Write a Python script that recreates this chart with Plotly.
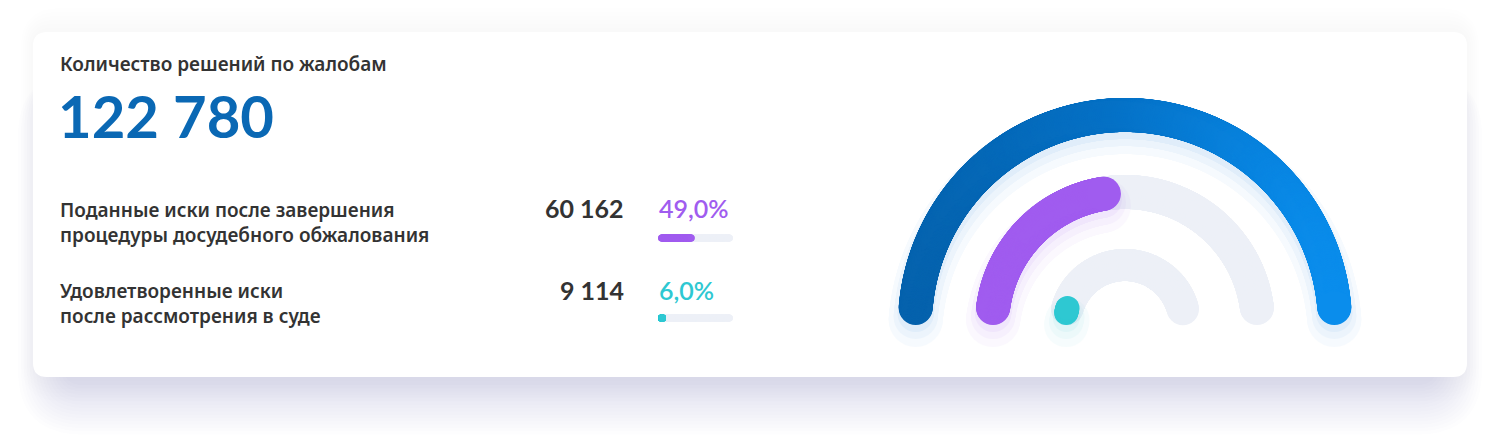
import numpy as np
import plotly.graph_objects as go

# ---------------- data ----------------
title = "Количество решений по жалобам"
total = 122780
row_labels = [
    "Поданные иски после завершения<br>процедуры досудебного обжалования",
    "Удовлетворенные иски<br>после рассмотрения в суде",
]
row_values = [60162, 9114]
row_pcts = [49.0, 6.0]
row_colors = ["#A05CEF", "#2EC8D2"]
total_colors = ["#0562AD", "#0A8DEC"]
track_color = "#EDF0F7"

# ---------------- layout constants (pixels) ----------------
W, H = 1500, 443
card = (33, 32, 1467, 377)
cx, cy = 1125, 325
radii = [210, 133, 60]
widths = [34, 34, 32]
fill_widths = [34, 34, 24]
bar_x0, bar_len, bar_th = 658, 75, 7
row_y_label = [222.5, 303.5]
row_y_num = [208, 290]
row_y_bar = [238, 318]


def fmt_num(v):
    return f"{v:,}".replace(",", " ")


def fmt_pct(p):
    return f"{p:.1f}".replace(".", ",") + "%"


def rrect(x0, y0, x1, y1, r):
    return (f"M {x0+r},{y0} L {x1-r},{y0} Q {x1},{y0} {x1},{y0+r} "
            f"L {x1},{y1-r} Q {x1},{y1} {x1-r},{y1} L {x0+r},{y1} "
            f"Q {x0},{y1} {x0},{y1-r} L {x0},{y0+r} Q {x0},{y0} {x0+r},{y0} Z")


def arc_points(r, width, frac):
    """Visual 0..100% spans 180deg including the round caps."""
    cap = np.degrees(width / 2 / r)
    start = 180 - cap
    span = max(frac * 180 - 2 * cap, 0)
    if frac < 1 and span < 5:
        span = 5
    n = max(int(np.radians(span) * r * 1.5), 2)
    th = np.radians(np.linspace(start, start - span, n))
    return cx + r * np.cos(th), cy - r * np.sin(th)


fig = go.Figure()
shapes = []

# faint overall halo
for i in range(6):
    s = 4 + i * 4
    shapes.append(dict(type="path", xref="x", yref="y",
                       path=rrect(card[0] - s * 0.5, card[1] - s, card[2] + s * 0.5, card[3] + s, 16 + s),
                       fillcolor="rgba(80,80,110,0.006)", line=dict(width=0), layer="below"))
# card shadow below
for i in range(16):
    s = i * 3.0
    shapes.append(dict(type="path", xref="x", yref="y",
                       path=rrect(card[0] + 30 - s, card[1] + 40,
                                  card[2] - 30 + s, card[3] + 8 + s * 1.1, 20 + s),
                       fillcolor="rgba(95,90,150,0.012)", line=dict(width=0), layer="below"))
shapes.append(dict(type="path", xref="x", yref="y", path=rrect(*card, 14),
                   fillcolor="white", line=dict(width=0), layer="below"))

# ---------------- gauge ----------------
fracs = [1.0, row_pcts[0] / 100, row_pcts[1] / 100]
colors = [None, row_colors[0], row_colors[1]]
glows = ["#2F8FE6", row_colors[0], row_colors[1]]

for k, (r, w, fw, f) in enumerate(zip(radii, widths, fill_widths, fracs)):
    if k > 0:
        tx, ty = arc_points(r, w, 1.0)
        fig.add_trace(go.Scatter(x=tx, y=ty, mode="markers", hoverinfo="skip",
                                 marker=dict(size=w, color=track_color, line=dict(width=0))))
    ax, ay = arc_points(r, fw, f)
    for gs, gop, gdy in [(fw + 20, 0.035, 12), (fw + 10, 0.045, 9), (fw + 2, 0.06, 6)]:
        fig.add_trace(go.Scatter(x=ax, y=ay + gdy, mode="markers", hoverinfo="skip", opacity=gop,
                                 marker=dict(size=gs, color=glows[k], line=dict(width=0))))
    if k == 0:
        fig.add_trace(go.Scatter(x=ax, y=ay, mode="markers", hoverinfo="skip",
                                 marker=dict(size=fw, color=ax, cmin=cx - r, cmax=cx + r,
                                             colorscale=[[0, total_colors[0]], [0.5, "#0571C6"],
                                                         [1, total_colors[1]]],
                                             line=dict(width=0))))
    else:
        fig.add_trace(go.Scatter(x=ax, y=ay, mode="markers", hoverinfo="skip",
                                 marker=dict(size=fw, color=colors[k], line=dict(width=0))))

# ---------------- progress bars ----------------
for j, (p, c) in enumerate(zip(row_pcts, row_colors)):
    y = row_y_bar[j]
    half = bar_th / 2
    tx = np.linspace(bar_x0 + half, bar_x0 + bar_len - half, 200)
    fig.add_trace(go.Scatter(x=tx, y=np.full_like(tx, y), mode="markers", hoverinfo="skip",
                             marker=dict(size=bar_th, color=track_color, line=dict(width=0))))
    end = max(bar_x0 + bar_len * p / 100 - half, bar_x0 + half + 1)
    fx = np.linspace(bar_x0 + half, end, 100)
    fig.add_trace(go.Scatter(x=fx, y=np.full_like(fx, y), mode="markers", hoverinfo="skip",
                             marker=dict(size=bar_th, color=c, line=dict(width=0))))

# ---------------- text ----------------
ann = []
lab_font = dict(family="Noto Sans", size=19, color="#333333", weight=600)
ann.append(dict(x=58, y=64, text=title, xanchor="left", yanchor="middle", font=lab_font))
ann.append(dict(x=56, y=115, text=fmt_num(total), xanchor="left", yanchor="middle",
                font=dict(family="Lato", size=58, color="#0A68B4", weight=700)))
for j in range(2):
    ann.append(dict(x=58, y=row_y_label[j], text=row_labels[j], xanchor="left", yanchor="middle",
                    align="left", font=lab_font))
    ann.append(dict(x=626, y=row_y_num[j], text=fmt_num(row_values[j]), xanchor="right",
                    yanchor="middle", font=dict(family="Lato", size=25, color="#333333", weight=700)))
    ann.append(dict(x=657, y=row_y_num[j], text=fmt_pct(row_pcts[j]), xanchor="left",
                    yanchor="middle", font=dict(family="Lato", size=25, color=row_colors[j], weight=600)))
for a in ann:
    a.update(xref="x", yref="y", showarrow=False)

fig.update_layout(
    width=W, height=H, margin=dict(l=0, r=0, t=0, b=0),
    paper_bgcolor="white", plot_bgcolor="rgba(0,0,0,0)", showlegend=False,
    xaxis=dict(range=[0, W], visible=False, fixedrange=True),
    yaxis=dict(range=[H, 0], visible=False, fixedrange=True),
    shapes=shapes, annotations=ann,
)
fig.write_html("out.html", config={"displayModeBar": False},
               post_script="document.body.style.margin='0';document.body.style.overflow='hidden';")
